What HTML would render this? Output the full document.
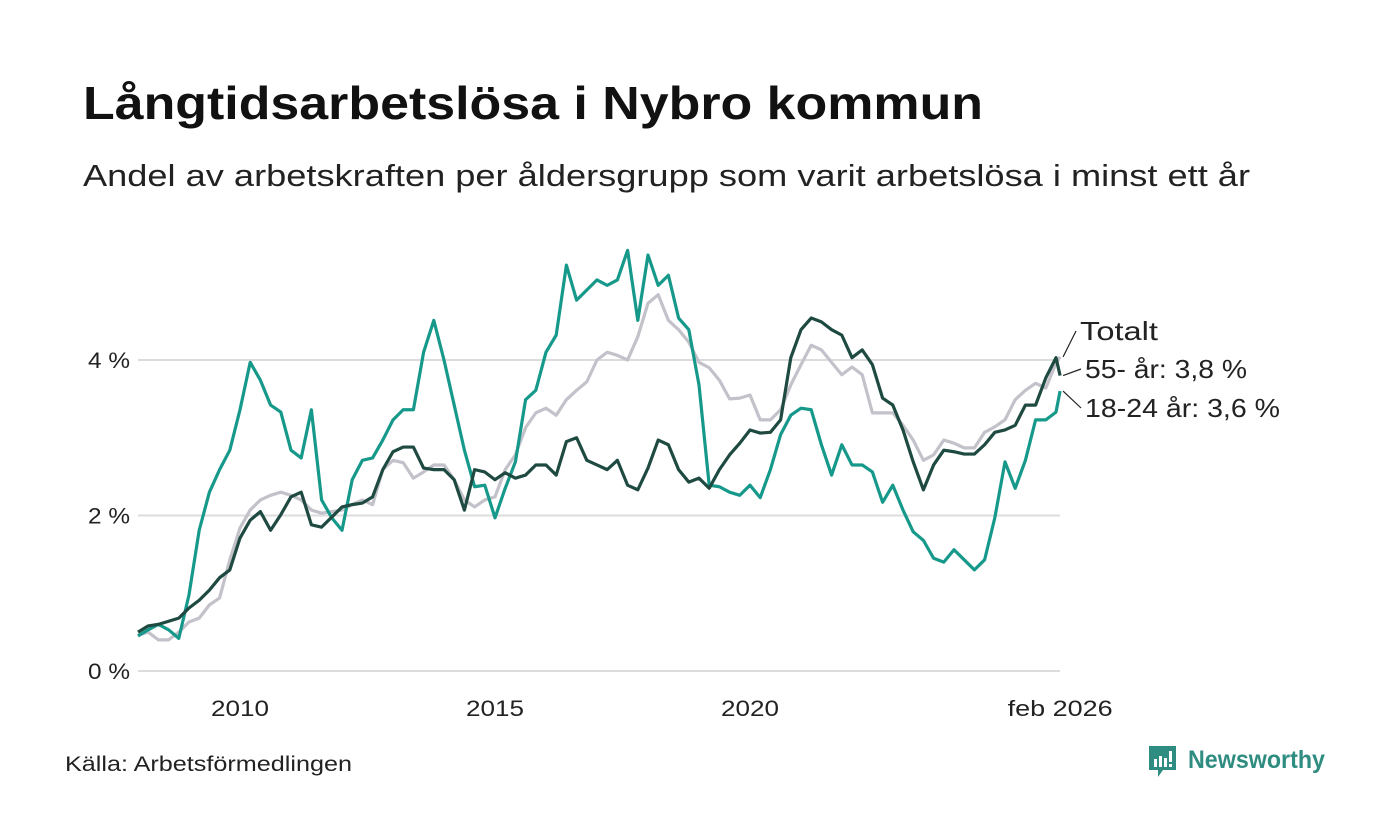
<!DOCTYPE html>
<html><head><meta charset="utf-8">
<style>
body{margin:0;background:#fff;font-family:"Liberation Sans","DejaVu Sans",sans-serif;}
#wrap{position:relative;width:1400px;height:840px;overflow:hidden;background:#fff;}
</style></head><body>
<div id="wrap">
<svg id="chart" width="1400" height="840" style="position:absolute;left:0;top:0" font-family="Liberation Sans, sans-serif">
<text x="83" y="119" font-size="46" font-weight="bold" fill="#111" textLength="900" lengthAdjust="spacingAndGlyphs">Långtidsarbetslösa i Nybro kommun</text>
<text x="83" y="186" font-size="31" fill="#222" textLength="1167" lengthAdjust="spacingAndGlyphs">Andel av arbetskraften per åldersgrupp som varit arbetslösa i minst ett år</text>
<text x="65" y="771" font-size="21" fill="#222" textLength="287" lengthAdjust="spacingAndGlyphs">Källa: Arbetsförmedlingen</text>
<g>
<path d="M1149 746h27v24h-13l-5 7v-7h-9z" fill="#2f8c80"/><rect x="1154" y="759" width="3" height="8" fill="#fff"/><rect x="1159" y="756" width="3" height="11" fill="#fff"/><rect x="1164" y="758" width="3" height="9" fill="#fff"/><rect x="1169" y="751" width="3" height="11" fill="#fff"/><rect x="1169" y="764" width="3" height="3" fill="#fff"/>
<text x="1188" y="768" font-size="25" font-weight="bold" fill="#2f8c80" textLength="137" lengthAdjust="spacingAndGlyphs">Newsworthy</text>
</g>
</svg>
</div>
<script>
const yTicks=[0,2,4];
const yTickLabels=["0 %","2 %","4 %"];
const xTicks=[2010,2015,2020,2026.08];
const xTickLabels=["2010","2015","2020","feb 2026"];
const startYear=2008.0, step=0.2, endYear=2026.08;
const totalt=[0.46,0.50,0.40,0.40,0.50,0.63,0.68,0.85,0.94,1.43,1.84,2.07,2.20,2.26,2.30,2.26,2.20,2.07,2.03,2.05,2.07,2.14,2.20,2.14,2.59,2.71,2.68,2.48,2.56,2.65,2.65,2.46,2.20,2.11,2.20,2.24,2.59,2.78,3.13,3.32,3.38,3.29,3.49,3.61,3.72,4.00,4.10,4.06,4.00,4.30,4.73,4.84,4.51,4.39,4.23,3.97,3.90,3.74,3.50,3.51,3.55,3.23,3.23,3.36,3.68,3.94,4.19,4.13,3.97,3.81,3.91,3.81,3.32,3.32,3.32,3.16,2.97,2.71,2.78,2.97,2.93,2.87,2.87,3.07,3.14,3.23,3.49,3.61,3.70,3.64,3.96,4.04];
const age55=[0.50,0.58,0.60,0.64,0.68,0.81,0.91,1.04,1.20,1.30,1.71,1.94,2.05,1.81,2.01,2.24,2.30,1.88,1.85,1.98,2.11,2.14,2.16,2.24,2.59,2.82,2.88,2.88,2.61,2.59,2.59,2.46,2.07,2.59,2.56,2.46,2.55,2.48,2.52,2.65,2.65,2.52,2.95,3.00,2.71,2.65,2.59,2.71,2.39,2.33,2.61,2.97,2.91,2.59,2.43,2.48,2.35,2.59,2.78,2.93,3.10,3.06,3.07,3.23,4.03,4.39,4.54,4.49,4.39,4.32,4.03,4.13,3.94,3.51,3.42,3.10,2.69,2.33,2.65,2.84,2.82,2.79,2.79,2.91,3.07,3.10,3.16,3.42,3.42,3.77,4.03,3.80];
const age1824=[0.45,0.53,0.60,0.53,0.42,0.98,1.81,2.30,2.59,2.84,3.36,3.97,3.74,3.42,3.33,2.84,2.74,3.36,2.20,1.97,1.81,2.46,2.71,2.74,2.97,3.23,3.36,3.36,4.10,4.51,4.00,3.42,2.84,2.37,2.39,1.97,2.35,2.69,3.49,3.61,4.10,4.32,5.22,4.77,4.90,5.03,4.96,5.03,5.41,4.51,5.35,4.96,5.09,4.54,4.39,3.68,2.39,2.37,2.30,2.26,2.39,2.23,2.59,3.04,3.29,3.38,3.36,2.91,2.52,2.91,2.65,2.65,2.56,2.17,2.39,2.07,1.79,1.68,1.45,1.40,1.56,1.43,1.30,1.43,1.97,2.69,2.35,2.71,3.23,3.23,3.33,3.60];
const NS="http://www.w3.org/2000/svg";
const svg=document.getElementById('chart');
const x=d=>240+(d-2010)*51;
const y=v=>671-v*77.75;
const date=i=>i===totalt.length-1?endYear:startYear+i*step;
function mk(t,a){const e=document.createElementNS(NS,t);for(const k in a)e.setAttribute(k,a[k]);svg.appendChild(e);return e;}
function tw(s,px){return Math.round(s.length*px);}
yTicks.forEach((t,i)=>{
  const g=mk('line',{x1:138,x2:1060,y1:y(t),y2:y(t),stroke:'#dcdcdc','stroke-width':2});
  
  
  const l=mk('text',{x:130,y:y(t)+8,'text-anchor':'end','font-size':22,fill:'#222',textLength:42,lengthAdjust:'spacingAndGlyphs'});
  l.textContent=yTickLabels[i];
  
  
});
xTicks.forEach((t,i)=>{
  const len=xTickLabels[i].length>4?105:58;
  const l=mk('text',{x:x(t),y:716,'text-anchor':'middle','font-size':22,fill:'#222',textLength:len,lengthAdjust:'spacingAndGlyphs'});
  l.textContent=xTickLabels[i];
  
  
});
function series(arr,color,name){
  const p=mk('polyline',{points:arr.map((v,i)=>x(date(i))+','+y(v)).join(' '),fill:'none',stroke:color,'stroke-width':3.2,'stroke-linejoin':'round'});
  
  
}
series(totalt,'#c3c1c9','line-totalt');
series(age1824,'#16998a','line-18-24');
series(age55,'#1e4a42','line-55');
const labels=[["Totalt",totalt,1080,340,78,'label-totalt'],["55- år: 3,8 %",age55,1085,378,162,'label-55'],["18-24 år: 3,6 %",age1824,1085,417,195,'label-18-24']];
labels.forEach(L=>{
  const v=L[1][L[1].length-1];
  const ln=mk('line',{x1:x(endYear)+3,y1:y(v),x2:L[2]-4,y2:L[3]-9,stroke:'#222','stroke-width':1.2});
  
  
  const t=mk('text',{x:L[2],y:L[3],'font-size':26,fill:'#222',textLength:L[4],lengthAdjust:'spacingAndGlyphs'});
  t.textContent=L[0];
  
  
});
</script>
</body></html>
